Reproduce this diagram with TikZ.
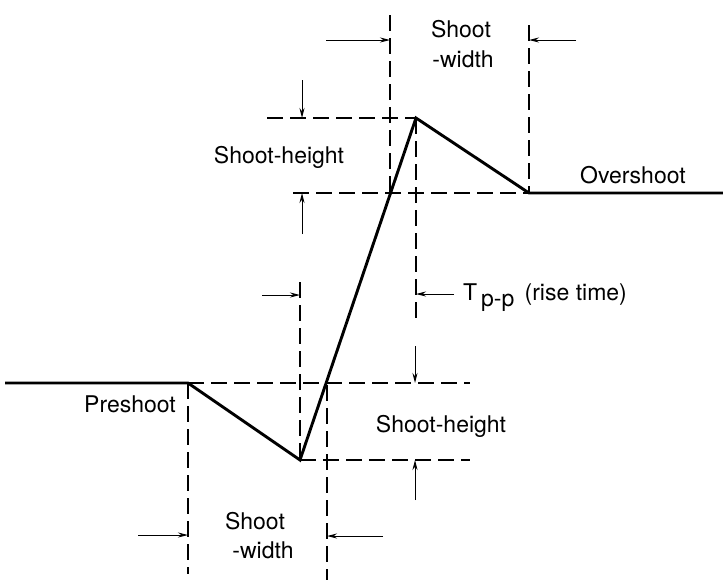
\documentclass[tikz,border=0pt]{standalone}
\usepackage{fontspec}
\setmainfont{TeX Gyre Heros}
\usetikzlibrary{arrows.meta}
\tikzset{
  wave/.style={line width=2.9pt, line join=miter},
  guide/.style={line width=1.7pt, dash pattern=on 16pt off 7pt},
  dim/.style={line width=1pt, -{Stealth[length=10pt,width=5pt]}},
  lbl/.style={font=\fontsize{23}{26}\selectfont, inner sep=0pt, anchor=base}
}
\begin{document}
\begin{tikzpicture}[x=1pt,y=-1pt]
    \useasboundingbox (0,0) rectangle (723,587);

    % Waveform corners
    \coordinate (start) at (5,383);
    \coordinate (pre)   at (188,383);
    \coordinate (low)   at (300,460);
    \coordinate (peak)  at (416,118);
    \coordinate (over)  at (529,193);
    \coordinate (stop)  at (723,193);

    % Guide lines
    \draw[guide] (267,118) -- (peak);
    \draw[guide] (293,193) -- (over);
    \draw[guide] (pre) -- (470,383);
    \draw[guide] (low) -- (470,460);
    \draw[guide] (390,15) -- (390,193);
    \draw[guide] (529,25) -- (over);
    \draw[guide] (peak) -- (416,322);
    \draw[guide] (300,282) -- (low);
    \draw[guide] (pre) -- (188,574);
    \draw[guide] (327,385) -- (327,580);

    % Waveform
    \draw[wave] (start) -- (pre) -- (low) -- (peak) -- (over) -- (stop);

    % Dimension arrows
    \draw[dim] (326,40) -- (390,40);
    \draw[dim] (576,40) -- (529,40);
    \draw[dim] (302,80) -- (302,118);
    \draw[dim] (302,234) -- (302,193);
    \draw[dim] (262,295) -- (300,295);
    \draw[dim] (454,294) -- (416,294);
    \draw[dim] (415,346) -- (415,383);
    \draw[dim] (415,500) -- (415,460);
    \draw[dim] (138,535) -- (188,535);
    \draw[dim] (383,536) -- (327,536);

    % Labels
    \node[lbl] (shootT) at (461,37) {Shoot};
    \node[lbl] (widthT) at (463,67) {-width};
    \node[lbl] (heightU) at (279,163) {Shoot-height};
    \node[lbl] (overL) at (633,183) {Overshoot};
    \node[lbl, anchor=base west] (rise) at (463,300) {T\,\raisebox{-6pt}{p-p}\hspace{0.45em}(rise time)};
    \node[lbl] (preL) at (130,412) {Preshoot};
    \node[lbl] (heightL) at (441,432) {Shoot-height};
    \node[lbl] (shootB) at (255,529) {Shoot};
    \node[lbl] (widthB) at (263,558) {-width};
\end{tikzpicture}
\end{document}
